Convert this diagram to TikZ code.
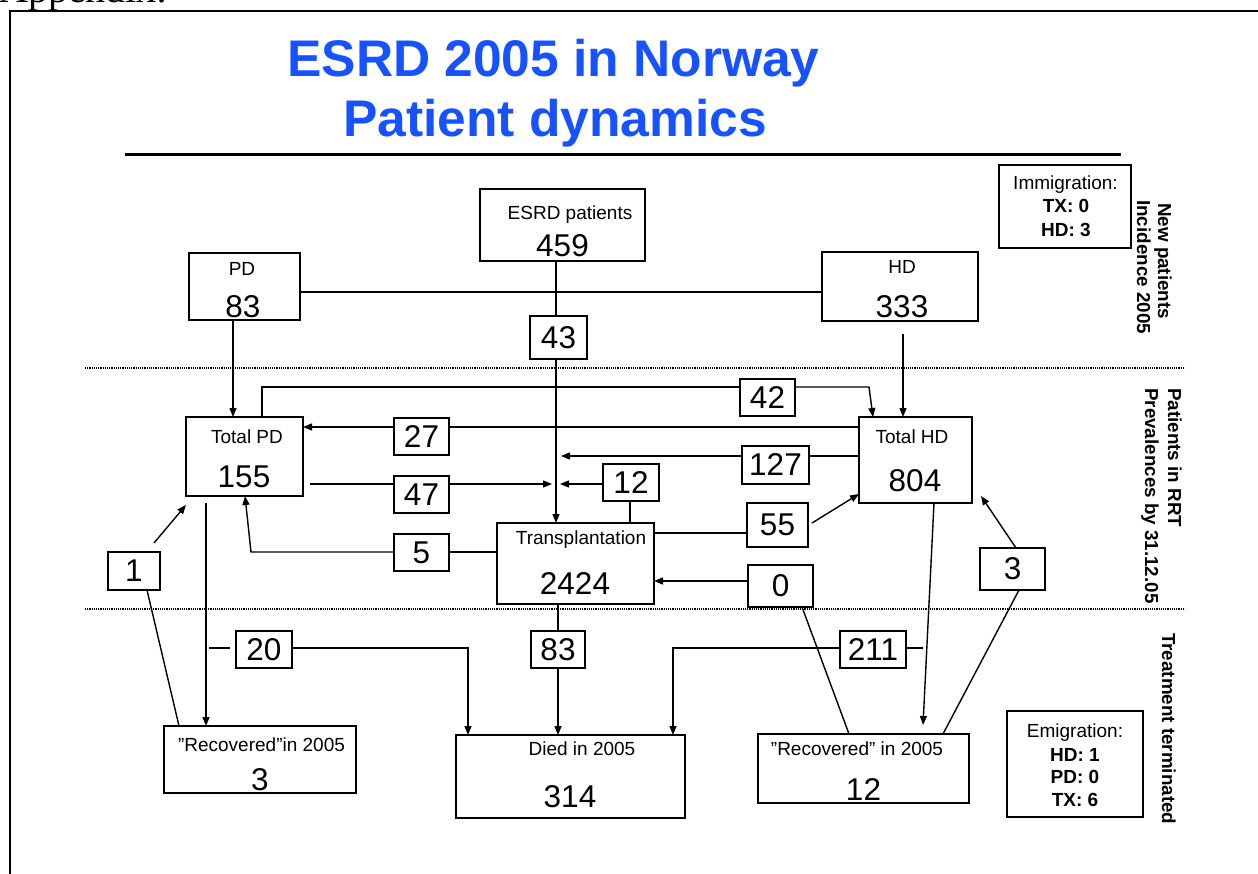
\documentclass[tikz,border=0pt]{standalone}
\usepackage{fontspec}
\setmainfont{Liberation Sans}
\newfontfamily\timesf{Liberation Serif}
\usetikzlibrary{arrows.meta}
\definecolor{titleblue}{RGB}{22,82,255}
\begin{document}
\begin{tikzpicture}[x=1pt,y=-1pt,
  ln/.style={line width=1.4pt},
  arr/.style={ln,-{Triangle[length=9pt,width=7pt]}},
  box/.style={draw,line width=1.8pt,inner sep=0pt,outer sep=0pt},
  sbox/.style={box,font=\fontsize{31.5}{36}\selectfont},
  lab/.style={inner sep=0pt,anchor=base,font=\fontsize{19}{22}\selectfont},
  num/.style={inner sep=0pt,font=\fontsize{31.5}{36}\selectfont},
  info/.style={inner sep=0pt,anchor=base,font=\fontsize{19}{22}\selectfont},
  infob/.style={inner sep=0pt,anchor=base,font=\fontsize{19}{22}\selectfont\bfseries},
  side/.style={inner sep=0pt,anchor=base west,rotate=-90,font=\fontsize{18.8}{22}\selectfont\bfseries},
  titlestyle/.style={inner sep=0pt,anchor=base,text=titleblue,font=\fontsize{51.5}{60}\selectfont\bfseries},
  dotl/.style={line width=1.1pt,dash pattern=on 1.1pt off 1.1pt}
]
\useasboundingbox (0,0) rectangle (1258,874);
\clip (0,0) rectangle (1258,874);

% page heading fragment and frame
\node[inner sep=0pt,anchor=base west,font=\timesf\fontsize{40}{40}\selectfont] (app) at (-1,2.5) {Appendix:};
\draw[line width=2.2pt] (10,890) -- (10,11) -- (1270,11);

% title
\node[titlestyle] (t1) at (553.5,77) {ESRD 2005 in Norway};
\node[titlestyle] (t2) at (555,137) {Patient dynamics};
\draw[line width=3pt] (125,155) -- (1121,155);

% dotted separators
\draw[dotl] (85,368) -- (1185,368);
\draw[dotl] (85,609) -- (1185,609);

% main boxes
\node[box,minimum width=165pt,minimum height=72pt] (esrd) at (562.5,225) {};
\node[box,minimum width=111pt,minimum height=67pt] (pd) at (244.5,286.5) {};
\node[box,minimum width=156pt,minimum height=69pt] (hd) at (900,286.5) {};
\node[box,minimum width=132pt,minimum height=83pt] (imm) at (1065,206.5) {};
\node[box,minimum width=117pt,minimum height=79pt] (tpd) at (244.5,456.5) {};
\node[box,minimum width=113pt,minimum height=86pt] (thd) at (915.5,460) {};
\node[box,minimum width=157pt,minimum height=81pt] (tx) at (575.5,563.5) {};
\node[box,minimum width=192pt,minimum height=67pt] (rec1) at (260,759.5) {};
\node[box,minimum width=229pt,minimum height=83pt] (died) at (570.5,776.5) {};
\node[box,minimum width=211pt,minimum height=69pt] (rec2) at (863.5,768.5) {};
\node[box,minimum width=136pt,minimum height=106pt] (emi) at (1075,764) {};

% box texts
\node[lab] (esrdL) at (570,220) {ESRD patients};
\node[num] (esrdN) at (562.5,245.7) {459};
\node[lab] (pdL) at (242,276) {PD};
\node[num] (pdN) at (243,306.7) {83};
\node[lab] (hdL) at (902,274) {HD};
\node[num] (hdN) at (902,306.7) {333};
\node[lab] (tpdL) at (247,443) {Total PD};
\node[num] (tpdN) at (244,476.7) {155};
\node[lab] (thdL) at (912,443) {Total HD};
\node[num] (thdN) at (915,481) {804};
\node[lab] (txL) at (581,544) {Transplantation};
\node[num] (txN) at (575,584) {2424};
\node[lab] (rec1L) at (261.5,751) {”Recovered”in 2005};
\node[num] (rec1N) at (260,780) {3};
\node[lab] (diedL) at (582,755) {Died in 2005};
\node[num] (diedN) at (570,797) {314};
\node[lab] (rec2L) at (857,755) {”Recovered” in 2005};
\node[num] (rec2N) at (863.5,789) {12};

\node[info] (immL) at (1065.5,190) {Immigration:};
\node[infob] (immTX) at (1066,213) {TX: 0};
\node[infob] (immHD) at (1066,237) {HD: 3};
\node[info] (emiL) at (1075,737) {Emigration:};
\node[infob] (emiHD) at (1075,761) {HD: 1};
\node[infob] (emiPD) at (1075,783) {PD: 0};
\node[infob] (emiTX) at (1075,806) {TX: 6};

% side labels
\node[side] (np) at (1158,203) {New patients};
\node[side] (inc) at (1137,200) {Incidence 2005};
\node[side] (pir) at (1168,388) {Patients in RRT};
\node[side] (prev) at (1145,388) {Prevalences by 31.12.05};
\node[side] (tt) at (1162,633) {Treatment terminated};

% flow number boxes
\node[sbox,minimum width=57pt,minimum height=43pt] (b43) at (558.5,337.5) {43};
\node[sbox,minimum width=55pt,minimum height=37pt] (b42) at (767.5,397.5) {42};
\node[sbox,minimum width=55pt,minimum height=37pt] (b27) at (421.5,436.5) {27};
\node[sbox,minimum width=67pt,minimum height=38pt] (b127) at (775.5,465) {127};
\node[sbox,minimum width=55pt,minimum height=37pt] (b47) at (421.5,494.5) {47};
\node[sbox,minimum width=56pt,minimum height=37pt] (b12) at (631,482.5) {12};
\node[sbox,minimum width=61pt,minimum height=44pt] (b55) at (777.5,525) {55};
\node[sbox,minimum width=55pt,minimum height=37pt] (b5) at (421.5,552.5) {5};
\node[sbox,minimum width=65pt,minimum height=42pt] (b0) at (780.5,586) {0};
\node[sbox,minimum width=52pt,minimum height=38pt] (b1) at (134,571) {1};
\node[sbox,minimum width=65pt,minimum height=42pt] (b3) at (1012.5,569) {3};
\node[sbox,minimum width=56pt,minimum height=37pt] (b20) at (264,649.5) {20};
\node[sbox,minimum width=54pt,minimum height=37pt] (b83) at (558,649.5) {83};
\node[sbox,minimum width=66pt,minimum height=37pt] (b211) at (873,649.5) {211};

% connectors
\draw[ln] (pd.east |- 0,292) -- (hd.west |- 0,292);
\draw[ln] (esrd.south -| 556,0) -- (b43.north -| 556,0);
\draw[arr] (b43.south -| 556,0) -- (tx.north -| 556,0);
\draw[arr] (pd.south -| 233,0) -- (tpd.north -| 233,0);
\coordinate (hdgap) at (903,334);
\draw[arr] (hdgap) -- (thd.north -| hdgap);
% 42
\coordinate (c42a) at (262,387);
\coordinate (c42b) at (869,387);
\draw[ln] (tpd.north -| c42a) -- (c42a) -- (b42.west |- c42a);
\draw[arr] (b42.east |- c42b) -- (c42b) -- (thd.north -| 873,0);
% 27
\draw[ln] (thd.west |- 0,427) -- (b27.east |- 0,427);
\draw[arr] (b27.west |- 0,427) -- (tpd.east |- 0,427);
% 127
\coordinate (t127) at (561,456);
\draw[ln] (thd.west |- t127) -- (b127.east |- t127);
\draw[arr] (b127.west |- t127) -- (t127);
% 47
\coordinate (s47) at (310,484);
\coordinate (t47) at (552,484);
\draw[ln] (s47) -- (b47.west |- s47);
\draw[arr] (b47.east |- s47) -- (t47);
% 12
\coordinate (t12) at (560,484);
\draw[arr] (b12.west |- t12) -- (t12);
\draw[ln] (b12.south -| 630,0) -- (tx.north -| 630,0);
% 55
\draw[ln] (tx.east |- 0,533) -- (b55.west |- 0,533);
\coordinate (s55) at (812,523);
\draw[arr] (s55) -- (thd.west |- 0,494);
% 5
\coordinate (c5) at (251,552);
\draw[ln] (tx.west |- c5) -- (b5.east |- c5);
\draw[arr] (b5.west |- c5) -- (c5) -- (tpd.south -| 245,0);
% 0
\draw[arr] (b0.west |- 0,581) -- (tx.east |- 0,581);
\draw[ln] (b0.south -| 802,0) -- (rec2.north -| 849,0);
% 1
\draw[ln] (rec1.north -| 179,0) -- (b1.south -| 147,0);
\coordinate (s1) at (154,543);
\coordinate (e1) at (186,505);
\draw[arr] (s1) -- (e1);
% 3
\draw[ln] (rec2.north -| 943,0) -- (b3.south -| 1019,0);
\coordinate (e3) at (981,496);
\draw[arr] (b3.north -| 1016,0) -- (e3);
% Total HD -> recovered
\coordinate (e4) at (923,725);
\draw[arr] (thd.south -| 934,0) -- (e4);
% Total PD -> recovered
\coordinate (s6) at (206,503);
\draw[arr] (s6) -- (rec1.north -| s6);
% 20
\coordinate (a20) at (209,648);
\coordinate (b20l) at (230,648);
\draw[ln] (a20) -- (b20l);
\coordinate (c20) at (468,648);
\draw[arr] (b20.east |- c20) -- (c20) -- (died.north -| c20);
% 83
\draw[ln] (tx.south -| 558,0) -- (b83.north -| 558,0);
\draw[arr] (b83.south -| 558,0) -- (died.north -| 558,0);
% 211
\coordinate (a211) at (923,648);
\coordinate (c211) at (673,648);
\draw[ln] (a211) -- (b211.east |- a211);
\draw[arr] (b211.west |- a211) -- (c211) -- (died.north -| c211);
\end{tikzpicture}
\end{document}
